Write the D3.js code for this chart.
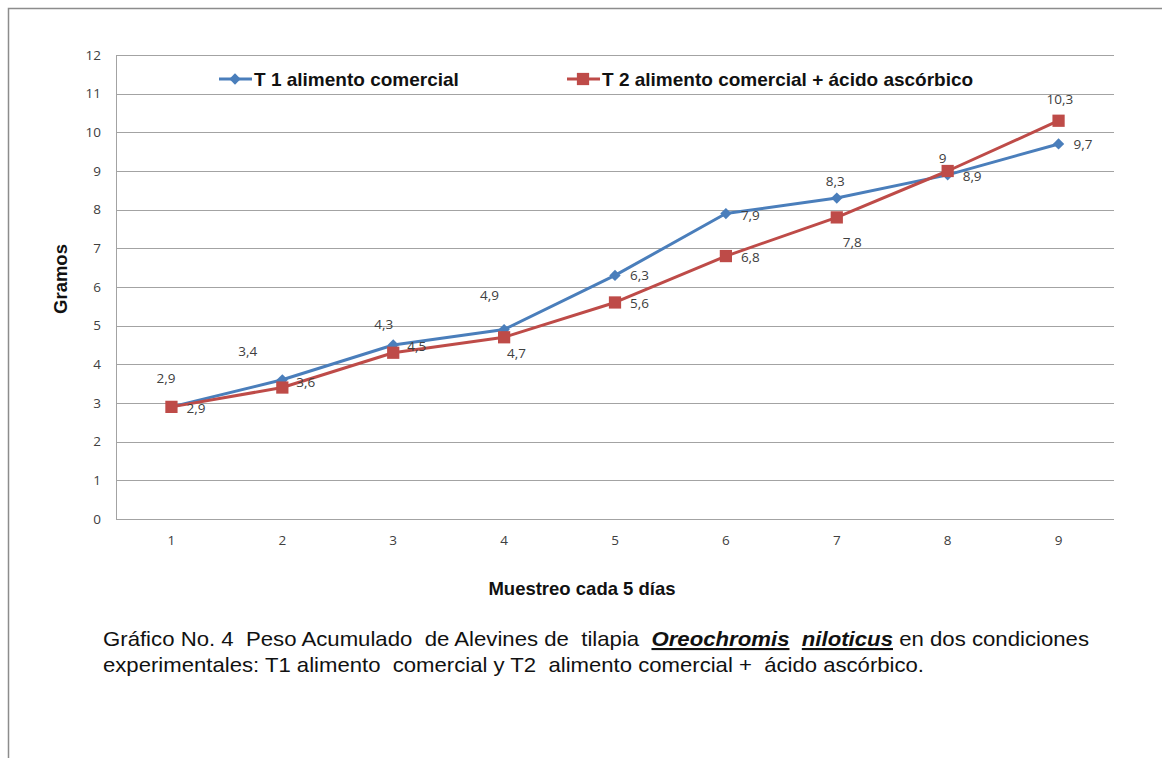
<!DOCTYPE html>
<html>
<head>
<meta charset="utf-8">
<script src="https://cdn.jsdelivr.net/npm/d3@7"></script>
<style>
  html, body { margin: 0; padding: 0; background: #fff; }
  svg { display: block; }
</style>
</head>
<body>
<svg id="chart" width="1162" height="758"></svg>
<script>
// Sampling points (every 5 days)
const muestreos = [1, 2, 3, 4, 5, 6, 7, 8, 9];
// Accumulated weight (g)
const t1Values = [2.9, 3.6, 4.5, 4.9, 6.3, 7.9, 8.3, 8.9, 9.7];
const t2Values = [2.9, 3.4, 4.3, 4.7, 5.6, 6.8, 7.8, 9.0, 10.3];
const yTicks = [0, 1, 2, 3, 4, 5, 6, 7, 8, 9, 10, 11, 12];
const seriesNames = ["T 1 alimento comercial", "T 2 alimento comercial + ácido ascórbico"];

// Hand-placed data-label offsets (dx, dy from each point)
const t1LabelOffsets = [[15,6],[14,7],[14,6],[-24,-30],[15,5],[15,6],[-11,-12],[15,6],[15,5]];
const t2LabelOffsets = [[-15,-24],[-44,-32],[-19,-24],[3,21],[15,6],[15,6],[6,30],[-9,-8],[-12,-17]];

const svg = d3.select("#chart");
const W = 1162, H = 758;

// outer frame
svg.append("rect").attr("x", 8.5).attr("y", 8.5).attr("width", W).attr("height", H)
  .attr("fill", "none").attr("stroke", "#8c8c8c").attr("stroke-width", 1.5);

const plot = { left: 116, right: 1114, top: 55, bottom: 519 };

const x = d3.scaleBand().domain(muestreos).range([plot.left, plot.right]);
const y = d3.scaleLinear().domain([0, 12]).range([plot.bottom, plot.top]);
const cx = d => x(d) + x.bandwidth() / 2;

const gridColor = "#a3a3a3";
const tickFont = "'Open Sans', sans-serif";
const tickSize = 13.5;
const labelColor = "#404040";

// horizontal gridlines
svg.append("g").selectAll("line").data(yTicks).join("line")
  .attr("x1", plot.left).attr("x2", plot.right)
  .attr("y1", d => Math.round(y(d)) + 0.5).attr("y2", d => Math.round(y(d)) + 0.5)
  .attr("stroke", gridColor).attr("stroke-width", 1);

// y axis line
svg.append("line").attr("x1", plot.left + 0.5).attr("x2", plot.left + 0.5)
  .attr("y1", plot.top).attr("y2", plot.bottom + 0.5)
  .attr("stroke", gridColor).attr("stroke-width", 1);

// y axis tick labels
const yAxis = d3.axisLeft(y).tickValues(yTicks).tickSize(0).tickPadding(15);
const gy = svg.append("g").attr("transform", `translate(${plot.left},0)`).call(yAxis);
gy.select(".domain").remove();
gy.selectAll("text").attr("font-family", tickFont).attr("font-size", tickSize).attr("fill", labelColor);

// x axis tick labels
const xAxis = d3.axisBottom(x).tickSize(0).tickPadding(16);
const gx = svg.append("g").attr("transform", `translate(0,${plot.bottom})`).call(xAxis);
gx.select(".domain").remove();
gx.selectAll("text").attr("font-family", tickFont).attr("font-size", tickSize).attr("fill", labelColor);

// axis titles
svg.append("text").attr("transform", "translate(67,279) rotate(-90)")
  .attr("text-anchor", "middle").attr("font-family", "Arial, 'Liberation Sans', sans-serif")
  .attr("font-weight", "bold").attr("font-size", 18.5).attr("fill", "#111").text("Gramos");
svg.append("text").attr("x", 582).attr("y", 595)
  .attr("text-anchor", "middle").attr("font-family", "Arial, 'Liberation Sans', sans-serif")
  .attr("font-weight", "bold").attr("font-size", 18.5).attr("fill", "#111").text("Muestreo cada 5 días");

// diamond = square turned 45°
const diamond = {
  draw(ctx, size) {
    const r = Math.sqrt(size) / 2 * Math.SQRT2;
    ctx.moveTo(0, -r); ctx.lineTo(r, 0); ctx.lineTo(0, r); ctx.lineTo(-r, 0); ctx.closePath();
  }
};

const series = [
  { name: seriesNames[0], values: t1Values, color: "#4a7ebb", shape: diamond, size: 64, offs: t1LabelOffsets },
  { name: seriesNames[1], values: t2Values, color: "#be4b48", shape: d3.symbolSquare, size: 150, offs: t2LabelOffsets }
];

const line = d3.line().x((d, i) => cx(muestreos[i])).y(d => y(d));

series.forEach(s => {
  svg.append("path").datum(s.values).attr("d", line)
    .attr("fill", "none").attr("stroke", s.color).attr("stroke-width", 3)
    .attr("stroke-linejoin", "round");
});
series.forEach(s => {
  svg.append("g").selectAll("path").data(s.values).join("path")
    .attr("transform", (d, i) => `translate(${cx(muestreos[i])},${y(d)})`)
    .attr("d", d3.symbol().type(s.shape).size(s.size))
    .attr("fill", s.color);
});

// data labels
const fmt = v => String(v).replace(".", ",");
series.forEach(s => {
  svg.append("g").selectAll("text").data(s.values).join("text")
    .attr("x", (d, i) => cx(muestreos[i]) + s.offs[i][0])
    .attr("y", (d, i) => y(d) + s.offs[i][1])
    .attr("font-family", tickFont).attr("font-size", tickSize).attr("fill", labelColor)
    .text(d => fmt(d));
});

// legend
const legendX = [219, 567];
series.forEach((s, i) => {
  const g = svg.append("g").attr("transform", `translate(${legendX[i]},79)`);
  g.append("line").attr("x1", 0).attr("x2", 33).attr("y1", 0).attr("y2", 0)
    .attr("stroke", s.color).attr("stroke-width", 3);
  g.append("path").attr("transform", "translate(16,0)")
    .attr("d", d3.symbol().type(s.shape).size(s.size)).attr("fill", s.color);
  g.append("text").attr("x", 35).attr("y", 7)
    .attr("font-family", "Arial, 'Liberation Sans', sans-serif").attr("font-weight", "bold")
    .attr("font-size", 19).attr("fill", "#111").text(s.name);
});

// caption
const capFont = "'Liberation Sans Narrow', 'Arial Narrow', Arial, 'Liberation Sans', sans-serif";
const cap1 = svg.append("text").attr("x", 103).attr("y", 646)
  .attr("font-family", capFont).attr("font-size", 21).attr("fill", "#111")
  .attr("textLength", 986).attr("lengthAdjust", "spacingAndGlyphs").attr("xml:space", "preserve");
cap1.append("tspan").text("Gráfico No. 4  Peso Acumulado  de Alevines de  tilapia  ");
cap1.append("tspan").attr("font-weight", "bold").attr("font-style", "italic")
  .attr("text-decoration", "underline").text("Oreochromis");
cap1.append("tspan").text("  ");
cap1.append("tspan").attr("font-weight", "bold").attr("font-style", "italic")
  .attr("text-decoration", "underline").text("niloticus");
cap1.append("tspan").text(" en dos condiciones");

svg.append("text").attr("x", 103).attr("y", 672)
  .attr("font-family", capFont).attr("font-size", 21).attr("fill", "#111")
  .attr("textLength", 821).attr("lengthAdjust", "spacingAndGlyphs").attr("xml:space", "preserve")
  .text("experimentales: T1 alimento  comercial y T2  alimento comercial +  ácido ascórbico.");
</script>
</body>
</html>
